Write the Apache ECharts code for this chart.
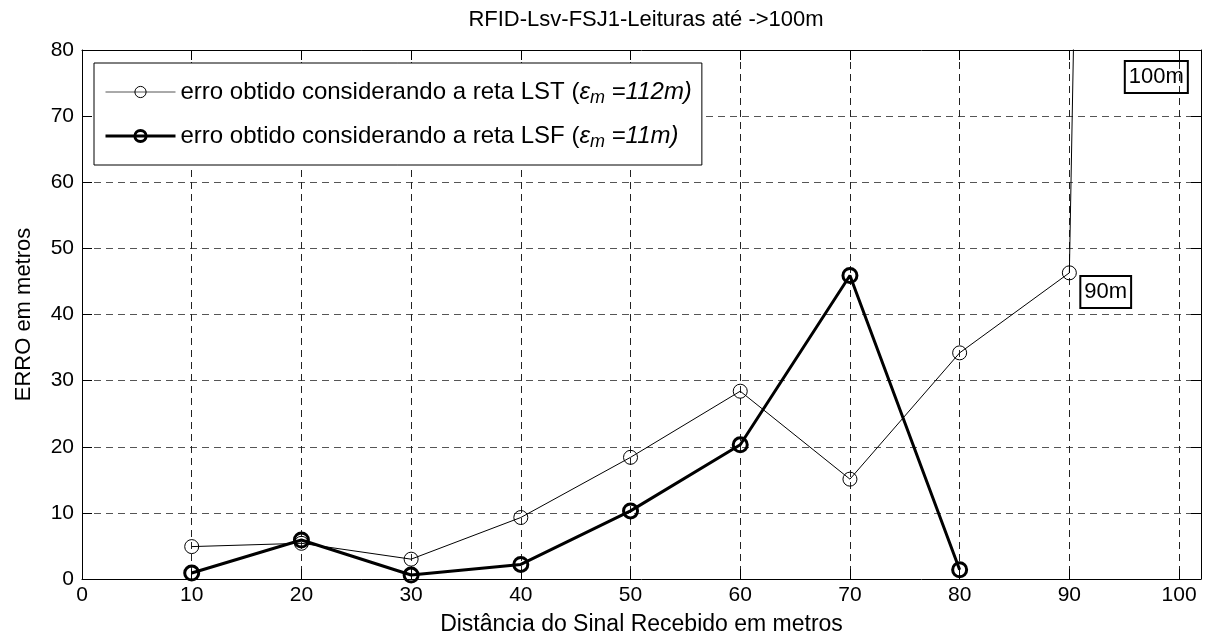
<!DOCTYPE html>
<html><head><meta charset="utf-8">
<script src="https://cdn.jsdelivr.net/npm/echarts@6/dist/echarts.min.js"></script>
<style>html,body{margin:0;padding:0;background:#fff}#c{width:1207px;height:641px}</style>
</head><body><div id="c"></div>
<script>
const titleText = 'RFID-Lsv-FSJ1-Leituras até ->100m';
const xName = 'Distância do Sinal Recebido em metros';
const yName = 'ERRO em metros';
const xTicks = [0, 10, 20, 30, 40, 50, 60, 70, 80, 90, 100];
const yTicks = [0, 10, 20, 30, 40, 50, 60, 70, 80];
const distLST = [10, 20, 30, 40, 50, 60, 70, 80, 90, 100];
const errLST  = [4.9, 5.4, 3.0, 9.3, 18.4, 28.4, 15.1, 34.2, 46.3, 955];
const distLSF = [10, 20, 30, 40, 50, 60, 70, 80];
const errLSF  = [0.9, 5.9, 0.6, 2.2, 10.3, 20.3, 45.9, 1.4];
const seriesNames = ['erro obtido considerando a reta LST', 'erro obtido considerando a reta LSF'];
const meanErrors = ['112m', '11m'];
const noteLabels = ['90m', '100m'];
const noteCoords = [[91.0, 43.4], [100.8, 75.9]];

const FONT = '"Liberation Sans", Arial, Helvetica, sans-serif';
const chart = echarts.init(document.getElementById('c'), null, {renderer: 'canvas'});
const zip = (xs, ys) => xs.map((x, i) => [x, ys[i]]);
const gridLine = (c) => ({show: true, lineStyle: {color: c, width: 1, type: [7, 5]}});
const NOFILL = 'rgba(0,0,0,0)';

const option = {
  backgroundColor: '#fff',
  animation: false,
  textStyle: {fontFamily: FONT, color: '#000'},
  title: {
    text: titleText, left: 641, textAlign: 'center', top: 4,
    textStyle: {fontFamily: FONT, fontSize: 22, fontWeight: 'normal', color: '#000'}
  },
  grid: {left: 82, top: 50, right: 6, bottom: 61, containLabel: false},
  legend: {
    data: [
      {name: seriesNames[0], lineStyle: {width: 1, color: '#555'}, itemStyle: {color: NOFILL, borderColor: '#000', borderWidth: 1}},
      {name: seriesNames[1], lineStyle: {width: 3, color: '#000'}, itemStyle: {color: NOFILL, borderColor: '#000', borderWidth: 3}}
    ],
    orient: 'vertical', left: 94, top: 63,
    padding: [14, 10, 14, 10], itemGap: 14,
    itemWidth: 70, itemHeight: 14,
    backgroundColor: '#fff', borderColor: '#000', borderWidth: 1,
    formatter: (name) => {
      const i = seriesNames.indexOf(name);
      return name + ' ({e|ε}{s|m}{i| =' + meanErrors[i] + ')}';
    },
    textStyle: {
      fontFamily: FONT, fontSize: 24, color: '#000', lineHeight: 30,
      rich: {
        e: {fontFamily: FONT, fontSize: 24, fontStyle: 'italic', lineHeight: 30, verticalAlign: 'middle'},
        s: {fontFamily: FONT, fontSize: 18, fontStyle: 'italic', lineHeight: 18, verticalAlign: 'bottom'},
        i: {fontFamily: FONT, fontSize: 24, fontStyle: 'italic', lineHeight: 30, verticalAlign: 'middle'}
      }
    }
  },
  xAxis: [{
    type: 'value', min: 0, max: 102, interval: 10,
    name: xName, nameLocation: 'middle', nameGap: 34,
    nameTextStyle: {fontFamily: FONT, fontSize: 23, color: '#000'},
    axisLine: {show: true, onZero: false, lineStyle: {color: '#000', width: 1}},
    axisTick: {show: true, inside: true, length: 10, lineStyle: {color: '#000'}},
    axisLabel: {fontFamily: FONT, fontSize: 21, color: '#000', margin: 6, showMaxLabel: false,
      formatter: (v) => xTicks.includes(v) ? String(v) : ''},
    splitLine: gridLine('#222')
  }, {
    type: 'value', min: 0, max: 102, interval: 10, position: 'top',
    axisLine: {show: true, onZero: false, lineStyle: {color: '#000', width: 1}},
    axisTick: {show: true, inside: true, length: 10, lineStyle: {color: '#000'}},
    axisLabel: {show: false}, splitLine: {show: false}
  }],
  yAxis: [{
    type: 'value', min: 0, max: 80, interval: 10,
    name: yName, nameLocation: 'middle', nameGap: 47,
    nameTextStyle: {fontFamily: FONT, fontSize: 22, color: '#000'},
    axisLine: {show: true, onZero: false, lineStyle: {color: '#000', width: 1}},
    axisTick: {show: true, inside: true, length: 10, lineStyle: {color: '#000'}},
    axisLabel: {fontFamily: FONT, fontSize: 21, color: '#000', margin: 8,
      formatter: (v) => yTicks.includes(v) ? String(v) : ''},
    splitLine: gridLine('#555')
  }, {
    type: 'value', min: 0, max: 80, interval: 10, position: 'right',
    axisLine: {show: true, onZero: false, lineStyle: {color: '#000', width: 1}},
    axisTick: {show: true, inside: true, length: 10, lineStyle: {color: '#000'}},
    axisLabel: {show: false}, splitLine: {show: false}
  }],
  series: [{
    name: seriesNames[0], type: 'line', xAxisIndex: 0, yAxisIndex: 0,
    data: zip(distLST, errLST), clip: true,
    symbol: 'circle', symbolSize: 14, showAllSymbol: true,
    lineStyle: {color: '#000', width: 1},
    itemStyle: {color: NOFILL, borderColor: '#000', borderWidth: 1},
    z: 3,
    markPoint: {
      symbol: 'circle', symbolSize: 0,
      data: noteLabels.map((t, i) => ({name: t, coord: noteCoords[i], value: t,
        label: {position: i === 0 ? 'right' : 'left'}})),
      label: {
        show: true, formatter: '{b}', distance: 0,
        fontFamily: FONT, fontSize: 22, color: '#000',
        borderColor: '#000', borderWidth: 1, padding: [6, 4, 4, 4], backgroundColor: 'transparent'
      }
    }
  }, {
    name: seriesNames[1], type: 'line', xAxisIndex: 0, yAxisIndex: 0,
    data: zip(distLSF, errLSF), clip: true,
    symbol: 'circle', symbolSize: 14, showAllSymbol: true,
    lineStyle: {color: '#000', width: 3},
    itemStyle: {color: NOFILL, borderColor: '#000', borderWidth: 3},
    z: 4
  }]
};
chart.setOption(option);
</script>
</body></html>
